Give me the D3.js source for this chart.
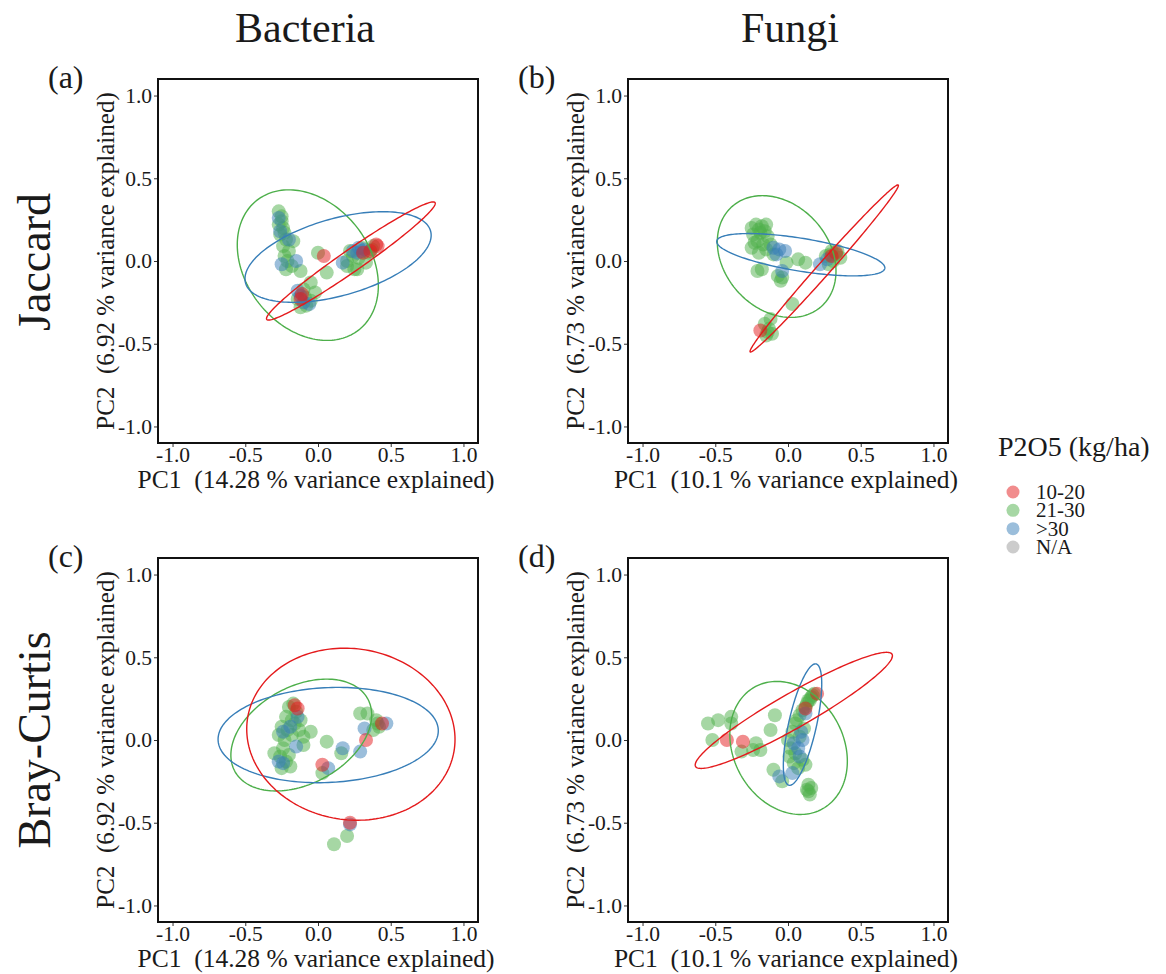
<!DOCTYPE html>
<html>
<head>
<meta charset="utf-8">
<script src="https://cdn.jsdelivr.net/npm/d3@7"></script>
<style>
  html, body { margin: 0; padding: 0; background: #fff; }
  svg { display: block; }
  text { font-family: "Liberation Serif", "Times New Roman", serif; fill: #1a1a1a; }
</style>
</head>
<body>
<svg id="chart" width="1166" height="974"></svg>
<script>
// ---------------- DATA ----------------
const groups = ["10-20", "21-30", ">30", "N/A"];
const groupColors = ["#E41A1C", "#4DAF4A", "#377EB8", "#999999"];
const tickValues = [-1.0, -0.5, 0.0, 0.5, 1.0];
const columnTitles = ["Bacteria", "Fungi"];
const rowTitles = ["Jaccard", "Bray-Curtis"];
const panelLabels = ["(a)", "(b)", "(c)", "(d)"];
const xTitles = ["PC1  (14.28 % variance explained)", "PC1  (10.1 % variance explained)"];
const yTitles = ["PC2  (6.92 % variance explained)", "PC2  (6.73 % variance explained)"];
const legendTitle = "P2O5 (kg/ha)";

// Panel (a) Bacteria / Jaccard
const aGreen = [[-0.27,0.30],[-0.25,0.27],[-0.27,0.22],[-0.24,0.20],[-0.26,0.16],[-0.22,0.13],[-0.24,0.09],[-0.23,0.03],[-0.20,0.06],[-0.18,-0.03],[-0.12,-0.06],[-0.22,-0.05],[0.00,0.05],[0.06,-0.07],[-0.05,-0.13],[-0.02,-0.19],[-0.10,-0.17],[-0.14,-0.23],[-0.08,-0.27],[-0.12,-0.28],[0.20,0.00],[0.25,-0.05],[0.22,0.06],[0.30,0.08],[0.35,0.05],[0.38,0.09],[0.33,-0.01],[0.28,0.02],[-0.17,0.12],[0.20,-0.03],[0.27,-0.05],[-0.25,0.24],[-0.23,0.17],[-0.09,-0.22],[-0.05,-0.24],[0.37,0.07],[0.24,0.03],[-0.21,0.00]];
const aBlue = [[-0.27,0.26],[-0.26,0.18],[-0.15,0.00],[-0.25,-0.02],[-0.14,-0.18],[-0.06,-0.26],[-0.10,-0.25],[0.17,-0.01],[0.24,0.06],[0.27,0.05],[0.32,0.07],[0.28,0.08],[-0.20,0.13],[-0.12,-0.21],[0.30,0.06]];
const aRed = [[0.04,0.03],[-0.11,-0.20],[-0.12,-0.23],[0.36,0.06],[0.40,0.10],[0.41,0.09],[0.31,0.05]];
// Panel (b) Fungi / Jaccard
const bGreen = [[-0.25,0.20],[-0.22,0.22],[-0.18,0.21],[-0.15,0.22],[-0.24,0.16],[-0.19,0.17],[-0.14,0.15],[-0.21,0.12],[-0.17,0.10],[-0.25,0.08],[-0.12,0.10],[-0.20,0.05],[-0.10,0.04],[-0.21,-0.06],[-0.18,-0.05],[-0.07,-0.09],[-0.04,-0.10],[-0.05,-0.12],[-0.01,-0.01],[0.07,0.01],[0.12,-0.01],[0.26,0.03],[0.30,0.06],[0.33,0.04],[0.36,0.02],[0.31,0.00],[0.28,-0.02],[0.03,-0.26],[-0.16,-0.38],[-0.13,-0.41],[-0.11,-0.44],[-0.15,-0.45],[-0.12,-0.35],[-0.20,0.19],[-0.16,0.18],[-0.23,0.11],[-0.15,0.07],[0.29,0.04],[0.34,0.06],[-0.14,-0.43]];
const bBlue = [[-0.10,0.08],[-0.06,0.07],[-0.02,0.06],[-0.08,0.04],[0.22,-0.02],[0.27,0.01],[-0.04,-0.06]];
const bRed = [[-0.19,-0.42],[0.30,0.03],[0.33,0.05]];
// Panel (c) Bacteria / Bray-Curtis
const cGreen = [[-0.20,0.20],[-0.17,0.22],[-0.15,0.17],[-0.22,0.14],[-0.18,0.12],[-0.12,0.12],[-0.25,0.08],[-0.21,0.06],[-0.27,0.03],[-0.23,0.00],[-0.30,-0.08],[-0.26,-0.10],[-0.22,-0.13],[-0.25,-0.17],[-0.19,-0.16],[-0.10,0.02],[-0.05,0.05],[-0.10,-0.03],[0.06,-0.01],[0.03,-0.20],[0.16,-0.08],[0.29,0.16],[0.34,0.16],[0.40,0.12],[0.42,0.08],[0.38,0.06],[0.20,-0.58],[0.11,-0.63],[-0.13,0.06],[-0.18,0.03],[-0.20,-0.09],[-0.24,-0.05],[-0.16,0.10],[0.41,0.10]];
const cBlue = [[-0.24,0.05],[-0.19,0.08],[-0.14,0.14],[-0.27,-0.13],[-0.15,-0.04],[0.07,-0.17],[0.17,-0.05],[0.29,-0.07],[0.32,0.07],[0.47,0.10],[0.22,-0.51],[-0.24,-0.14]];
const cRed = [[-0.16,0.21],[-0.14,0.19],[0.03,-0.15],[0.33,0.00],[0.44,0.10],[0.22,-0.50]];
// Panel (d) Fungi / Bray-Curtis
const dGreen = [[-0.55,0.10],[-0.48,0.12],[-0.39,0.14],[-0.52,0.00],[-0.39,0.10],[-0.32,-0.07],[-0.24,-0.06],[-0.19,-0.06],[-0.22,-0.02],[-0.12,0.06],[-0.09,0.15],[-0.10,-0.18],[-0.04,-0.25],[0.00,0.00],[0.03,0.05],[0.05,0.10],[0.08,0.15],[0.10,0.18],[0.13,0.22],[0.16,0.26],[0.18,0.28],[0.15,0.24],[0.12,0.20],[0.02,-0.05],[0.05,-0.08],[0.10,-0.12],[0.07,-0.17],[0.12,-0.15],[0.14,-0.27],[0.13,-0.30],[0.16,-0.29],[0.15,-0.33],[0.08,0.02],[0.11,0.07],[0.01,-0.10],[0.14,0.24],[0.17,0.27],[0.06,0.12],[0.04,-0.14],[0.14,-0.31]];
const dBlue = [[-0.06,-0.22],[0.04,-0.02],[0.07,-0.05],[0.10,0.00],[0.08,-0.10],[0.12,0.16],[0.03,-0.20],[0.09,0.05]];
const dRed = [[-0.42,0.00],[-0.31,-0.01],[0.20,0.28],[0.12,0.19]];

// Confidence ellipses: [groupIndex, centerX, centerY, halfWidthX, halfHeightY, correlation]
const aEllipses = [[1,-0.07,-0.025,0.485,0.455,-0.27],[2,0.138,0.024,0.64,0.274,0.48],[0,0.226,0.0,0.58,0.357,0.975]];
const bEllipses = [[1,-0.078,0.027,0.408,0.368,-0.24],[2,0.088,0.038,0.578,0.128,-0.62],[0,0.249,-0.045,0.51,0.505,0.993]];
const cEllipses = [[1,-0.115,0.03,0.484,0.338,0.36],[2,0.07,0.03,0.757,0.288,0.09],[0,0.226,0.035,0.716,0.52,-0.06]];
const dEllipses = [[1,0.004,-0.048,0.404,0.402,-0.2],[2,0.1,0.093,0.132,0.367,0.67],[0,0.04,0.179,0.678,0.351,0.94]];

// ---------------- LAYOUT ----------------
const svg = d3.select("#chart");
const domain = [-1.1, 1.1];
const pw = 320, ph = 364;
const panels = [
  {left:158, top:79,  col:0, pts:[aGreen,aBlue,aRed], ell:aEllipses, label:panelLabels[0]},
  {left:628, top:79,  col:1, pts:[bGreen,bBlue,bRed], ell:bEllipses, label:panelLabels[1]},
  {left:158, top:558, col:0, pts:[cGreen,cBlue,cRed], ell:cEllipses, label:panelLabels[2]},
  {left:628, top:558, col:1, pts:[dGreen,dBlue,dRed], ell:dEllipses, label:panelLabels[3]}
];
const ptGroupIdx = [1, 2, 0];
const fmt = v => d3.format(".1f")(v).replace("\u2212", "-");

panels.forEach(p => {
  const x = d3.scaleLinear().domain(domain).range([p.left, p.left + pw]);
  const y = d3.scaleLinear().domain(domain).range([p.top + ph, p.top]);
  const g = svg.append("g");

  // axes
  const ya = g.append("g").attr("transform", `translate(${p.left},0)`)
    .call(d3.axisLeft(y).tickValues(tickValues).tickSize(4).tickPadding(2).tickFormat(fmt));
  const xa = g.append("g").attr("transform", `translate(0,${p.top + ph})`)
    .call(d3.axisBottom(x).tickValues(tickValues).tickSize(4).tickPadding(0).tickFormat(fmt));
  [ya, xa].forEach(a => {
    a.select(".domain").remove();
    a.selectAll(".tick line").attr("stroke", "#333").attr("stroke-width", 1);
    a.selectAll(".tick text").attr("font-size", 21.5).attr("fill", "#1a1a1a")
      .attr("font-family", "Liberation Serif, Times New Roman, serif");
  });

  // points
  p.pts.forEach((arr, i) => {
    g.append("g").selectAll("circle").data(arr).join("circle")
      .attr("cx", d => x(d[0])).attr("cy", d => y(d[1])).attr("r", 7)
      .attr("fill", groupColors[ptGroupIdx[i]]).attr("fill-opacity", 0.5);
  });

  // ellipses
  const line = d3.line().curve(d3.curveLinearClosed);
  p.ell.forEach(e => {
    const [gi, cx, cy, sx, sy, r] = e;
    const q = Math.sqrt(1 - r * r);
    const pts = d3.range(0, 2 * Math.PI, Math.PI / 90).map(t =>
      [x(cx + sx * Math.cos(t)), y(cy + sy * (r * Math.cos(t) + q * Math.sin(t)))]);
    g.append("path").attr("d", line(pts)).attr("fill", "none")
      .attr("stroke", groupColors[gi]).attr("stroke-width", 1.4);
  });

  // frame
  g.append("rect").attr("x", p.left).attr("y", p.top).attr("width", pw).attr("height", ph)
    .attr("fill", "none").attr("stroke", "#111").attr("stroke-width", 2);

  // axis titles
  g.append("text").attr("x", p.left + pw / 2 - 2).attr("y", p.top + ph + 45)
    .attr("text-anchor", "middle").attr("font-size", 25.5).style("white-space", "pre")
    .text(xTitles[p.col]);
  g.append("text").attr("transform", `translate(${p.left - 44},${p.top + ph / 2}) rotate(-90)`)
    .attr("text-anchor", "middle").attr("font-size", 25).style("white-space", "pre")
    .text(yTitles[p.col]);

  // panel label
  g.append("text").attr("x", p.left - 110).attr("y", p.top + 9)
    .attr("font-size", 32).text(p.label);
});

// column & row titles
const colX = [305, 790];
columnTitles.forEach((t, i) => {
  svg.append("text").attr("x", colX[i]).attr("y", 42).attr("text-anchor", "middle")
    .attr("font-size", 42).text(t);
});
const rowY = [262, 740];
rowTitles.forEach((t, i) => {
  svg.append("text").attr("transform", `translate(50,${rowY[i]}) rotate(-90)`)
    .attr("text-anchor", "middle").attr("font-size", 46).text(t);
});

// legend
const lg = svg.append("g");
lg.append("text").attr("x", 998).attr("y", 456).attr("font-size", 28).text(legendTitle);
const legY = d3.scalePoint().domain(groups).range([492, 547]);
groups.forEach((gname, i) => {
  lg.append("circle").attr("cx", 1013).attr("cy", legY(gname)).attr("r", 6.5)
    .attr("fill", groupColors[i]).attr("fill-opacity", 0.5);
  lg.append("text").attr("x", 1036).attr("y", legY(gname) + 7).attr("font-size", 21).text(gname);
});
</script>
</body>
</html>
